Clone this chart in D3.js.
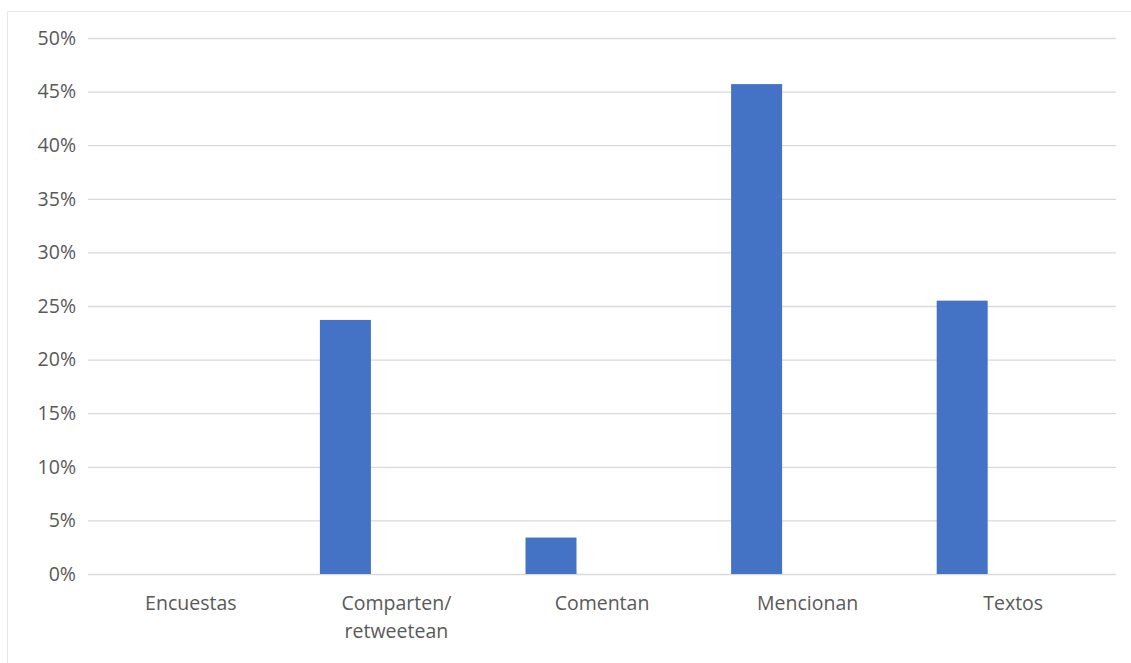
<!DOCTYPE html>
<html>
<head>
<meta charset="utf-8">
<script src="https://cdn.jsdelivr.net/npm/d3@7"></script>
<style>
  html, body { margin: 0; padding: 0; background: #fff; }
  svg { display: block; }
  text { font-family: "Open Sans", "Noto Sans", sans-serif; fill: #595959; }
</style>
</head>
<body>
<svg id="chart" width="1131" height="663"></svg>
<script>
const categories = ["Encuestas", "Comparten/\nretweetean", "Comentan", "Mencionan", "Textos"];
const seriesNames = ["Serie1", "Serie2", "Serie3"];
const serie1 = [0, 0.237, 0.034, 0.457, 0.255];
const yTicks = [0, 0.05, 0.10, 0.15, 0.20, 0.25, 0.30, 0.35, 0.40, 0.45, 0.50];

const W = 1131, H = 663;
const m = { left: 88, right: 15, top: 38, bottom: 89 };
const FS = 19.5;
const svg = d3.select("#chart");

// outer chart frame (top and left edges visible)
svg.append("line").attr("x1", 7.5).attr("x2", W).attr("y1", 11.5).attr("y2", 11.5)
  .attr("stroke", "#E6E6E6").attr("stroke-width", 1);
svg.append("line").attr("x1", 7.5).attr("x2", 7.5).attr("y1", 11.5).attr("y2", H)
  .attr("stroke", "#E6E6E6").attr("stroke-width", 1);

const x = d3.scaleBand().domain(categories).range([m.left, W - m.right]).paddingInner(0).paddingOuter(0);
const bw = x.bandwidth();
const gap = bw - 3 * 51;
const x1 = d3.scaleBand().domain(seriesNames).range([gap / 2, bw - gap / 2]).padding(0);
const y = d3.scaleLinear().domain([0, 0.5]).range([H - m.bottom, m.top]);

// gridlines
const yAxis = d3.axisLeft(y).tickValues(yTicks).tickFormat(d3.format(".0%"))
  .tickSize(-(W - m.right - m.left)).tickPadding(12);
const gy = svg.append("g").attr("transform", `translate(${m.left},0)`).call(yAxis);
gy.select(".domain").remove();
gy.selectAll(".tick line").attr("stroke", "#D9D9D9").attr("stroke-width", 1.3);
gy.selectAll(".tick text").attr("font-size", FS).style("fill", "#595959");

// bars
svg.append("g").selectAll("rect").data(categories.map((c, i) => ({ c, v: serie1[i] })))
  .join("rect")
  .attr("x", d => x(d.c) + x1("Serie1"))
  .attr("y", d => y(d.v))
  .attr("width", x1.bandwidth())
  .attr("height", d => y(0) - y(d.v))
  .attr("fill", "#4472C4");

// x axis labels
const xAxis = d3.axisBottom(x).tickSize(0).tickFormat("");
const gx = svg.append("g").attr("transform", `translate(0,${y(0)})`).call(xAxis);
gx.select(".domain").remove();
gx.selectAll(".tick").each(function(d) {
  const t = d3.select(this).append("text").attr("text-anchor", "middle").attr("font-size", FS)
    .style("fill", "#595959");
  d.split("\n").forEach((line, i) => {
    t.append("tspan").attr("x", 0).attr("y", 36 + i * 28).text(line);
  });
});
</script>
</body>
</html>
